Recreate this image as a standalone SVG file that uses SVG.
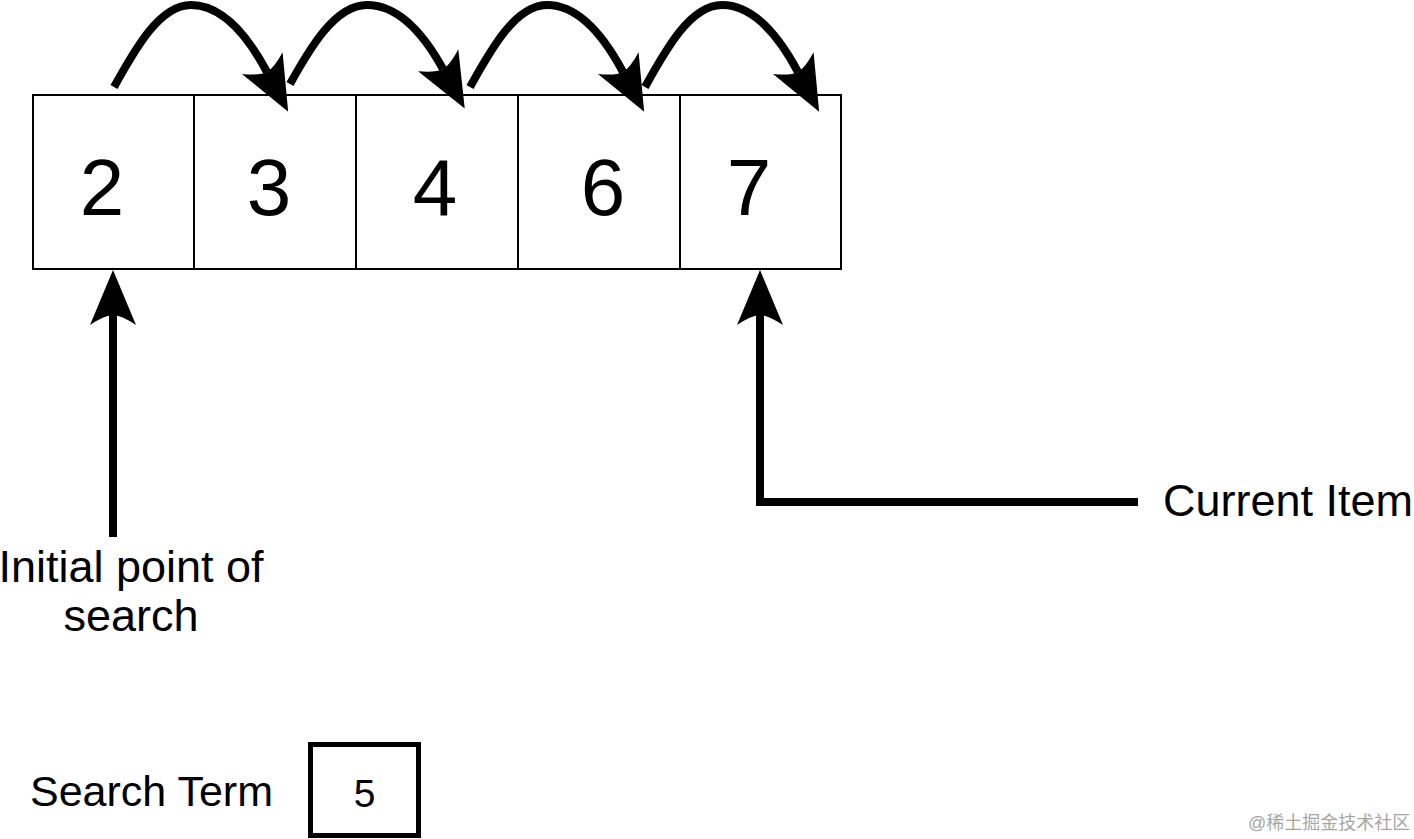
<svg xmlns="http://www.w3.org/2000/svg" width="1414" height="839" viewBox="0 0 1414 839">
  <style>
    .cell { fill: #ffffff; stroke: #000000; stroke-width: 2; }
    .num { font-family: "Liberation Sans", Arial, sans-serif; font-size: 80px; fill: #000000; text-anchor: middle; }
    .label { font-family: "Liberation Sans", Arial, sans-serif; font-size: 45px; fill: #000000; }
    .conn { fill: none; stroke: #000000; stroke-width: 8; stroke-linejoin: miter; marker-end: url(#arrow); }
    .term { fill: #ffffff; stroke: #000000; stroke-width: 5; }
    .wm { font-family: "Liberation Sans", "Noto Sans CJK SC", sans-serif; font-size: 18px; fill: #a6a6a6; }
  </style>
  <defs>
    <marker id="arrow" markerUnits="userSpaceOnUse" viewBox="-15 -30 65 60" markerWidth="65" markerHeight="60" refX="0" refY="0" orient="auto">
      <path d="M45,0 L-10,-23 Q0,-8 0,0 Q0,8 -10,23 Z" fill="#000000"/>
    </marker>
  </defs>
  <rect x="0" y="0" width="1414" height="839" fill="#ffffff"/>

  <g id="cell-2"><rect class="cell" x="33" y="95" width="161" height="174"/><text class="num" x="102" y="215">2</text></g>
  <g id="cell-3"><rect class="cell" x="194" y="95" width="162" height="174"/><text class="num" x="269" y="215">3</text></g>
  <g id="cell-4"><rect class="cell" x="356" y="95" width="162" height="174"/><text class="num" x="435" y="215">4</text></g>
  <g id="cell-6"><rect class="cell" x="518" y="95" width="162" height="174"/><text class="num" x="603" y="215">6</text></g>
  <g id="cell-7"><rect class="cell" x="680" y="95" width="161" height="174"/><text class="num" x="749" y="215">7</text></g>

  <g id="label-initial"><text class="label" x="131" y="582" text-anchor="middle">Initial point of</text><text class="label" x="131" y="631" text-anchor="middle">search</text></g>
  <g id="label-current"><text class="label" x="1163" y="516">Current Item</text></g>
  <g id="label-search-term"><text class="label" x="30" y="806" style="font-size:43px">Search Term</text></g>
  <g id="search-term-box"><rect class="term" x="310.5" y="744.5" width="108" height="91"/><text class="label" x="364.5" y="807" text-anchor="middle" style="font-size:39px">5</text></g>

  <g id="connectors">
    <path class="conn" d="M114,87 C134,51 159,5 191,5 C226,5 251,42 267,72"/>
    <path class="conn" d="M290,84 C310,48 335,5 367,5 C402,5 427,40 443,69"/>
    <path class="conn" d="M470,87 C490,51 515,5 547,5 C582,5 607,42 623,72"/>
    <path class="conn" d="M645,87 C665,51 690,5 722,5 C757,5 782,42 798,72"/>
    <path class="conn" d="M113,537 L113,315"/>
    <path class="conn" d="M1138,502 L760,502 L760,315"/>
  </g>

  <text class="wm" x="1248" y="829">@稀土掘金技术社区</text>
</svg>
